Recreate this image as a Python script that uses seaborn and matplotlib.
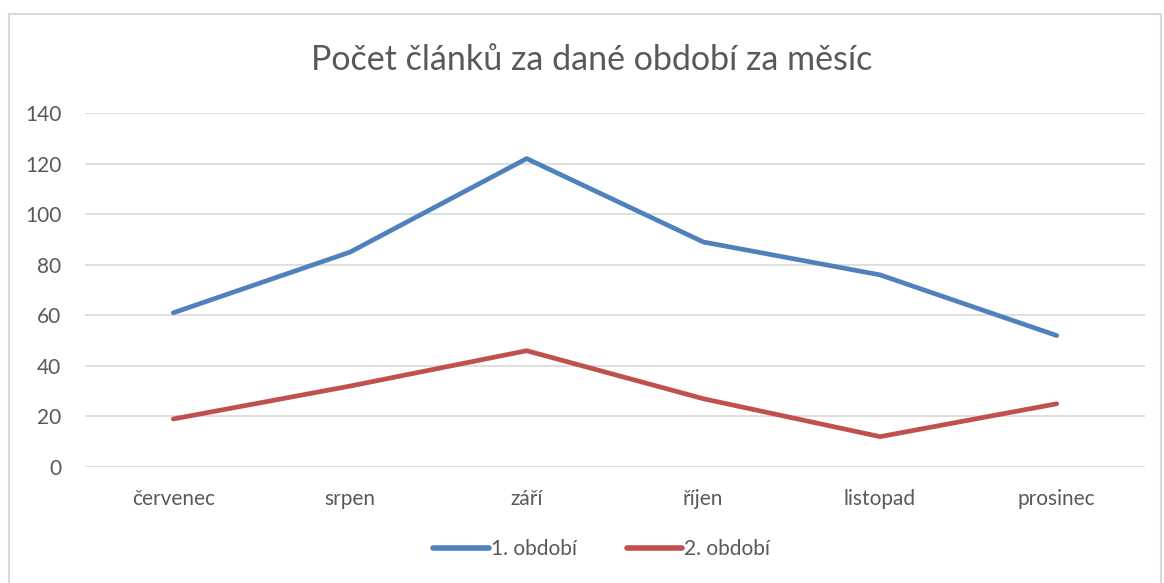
import seaborn as sns
import pandas as pd
from matplotlib import pyplot as plt
from matplotlib.patches import Rectangle

mesice = ["červenec", "srpen", "září", "říjen", "listopad", "prosinec"]
obdobi_1 = [61, 85, 122, 89, 76, 52]
obdobi_2 = [19, 32, 46, 27, 12, 25]
serie = ["1. období", "2. období"]
barvy = ["#4F81BD", "#C0504D"]

df = pd.DataFrame({
    "mesic": mesice * 2,
    "pocet": obdobi_1 + obdobi_2,
    "obdobi": [serie[0]] * len(mesice) + [serie[1]] * len(mesice),
})

sns.set_style("white")
plt.rcParams['font.family'] = ['Lato', 'DejaVu Sans']
seda = "#595959"

fig = plt.figure(figsize=(11.64, 5.83), dpi=100)
ax = fig.add_axes([0.073, 0.199, 0.9107, 0.607])

sns.lineplot(data=df, x="mesic", y="pocet", hue="obdobi", palette=barvy,
             linewidth=3.4, sort=False, ax=ax, legend=False,
             solid_capstyle="round", solid_joinstyle="round")

ax.set_xlim(-0.5, 5.5)
ax.set_ylim(0, 140)
ax.set_yticks(range(0, 141, 20))
ax.yaxis.grid(True, color="#D9D9D9", linewidth=1.2)
ax.set_axisbelow(True)
for s in ax.spines.values():
    s.set_visible(False)
ax.tick_params(axis="both", length=0, labelsize=15, colors=seda)
ax.tick_params(axis="x", pad=16)
ax.tick_params(axis="y", pad=17)
ax.set_xlabel("")
ax.set_ylabel("")

fig.text(0.508, 0.897, "Počet článků za dané období za měsíc",
         ha="center", va="center", fontsize=24.5, color=seda)

handles = [plt.Line2D([0], [0], color=c, linewidth=4, solid_capstyle="round")
           for c in barvy]
fig.legend(handles, serie, loc="center", bbox_to_anchor=(0.517, 0.058),
           ncol=2, frameon=False, fontsize=15, labelcolor=seda,
           handlelength=2.65, handletextpad=0.1, columnspacing=2.4)

fig.patches.append(Rectangle((9 / 1164, -0.02), 1152 / 1164, 1.02 - 14 / 583,
                             transform=fig.transFigure, fill=False,
                             edgecolor="#D9D9D9", linewidth=1.5))

fig.savefig("out.png", dpi=100)
